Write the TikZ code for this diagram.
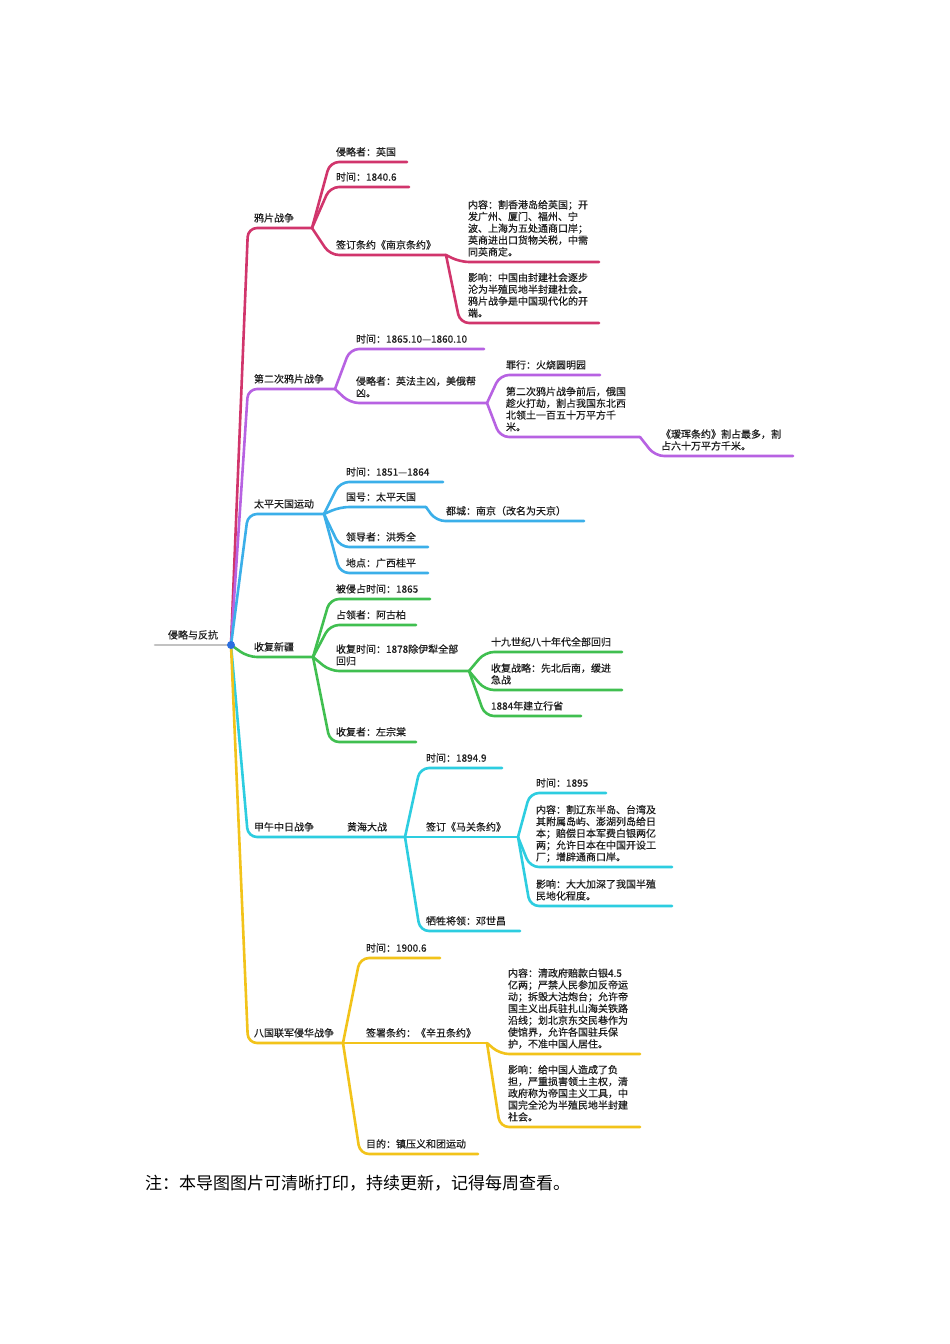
\documentclass[tikz,border=0pt]{standalone}
\usepackage{fontspec}
\setmainfont{Noto Sans CJK SC}
\newfontfamily\mapfont{Noto Sans CJK SC}[FakeBold=0.5]
\usepackage{tikz}

\definecolor{inkgray}{HTML}{1E1E1E}
\definecolor{rootgray}{HTML}{C2C2C2}
\definecolor{hubblue}{HTML}{2A6FE0}
\definecolor{opiumred}{HTML}{D1356C}
\definecolor{secondpurple}{HTML}{B762E2}
\definecolor{taipingblue}{HTML}{3BAFE9}
\definecolor{xinjianggreen}{HTML}{40BF50}
\definecolor{jiawucyan}{HTML}{2DCDE0}
\definecolor{baguoyellow}{HTML}{F2C31A}

\tikzset{
  mapnode/.style={anchor=south west, inner xsep=6pt, inner ysep=2.8pt, outer sep=0pt,
    align=left, text=inkgray, font=\mapfont\fontsize{10}{11.8}\selectfont,
    execute at end node=\strut},
  twig/.style={line width=2.6pt, line cap=round, line join=round, rounded corners=9pt},
}

\begin{document}
\begin{tikzpicture}[x=1pt,y=-1pt]
  \useasboundingbox[fill=white] (0,0) rectangle (950,1344);

  % root
  \node[mapnode, inner xsep=13pt, text width=50pt] (root) at (155,645) {侵略与反抗};

  % 鸦片战争
  \node[mapnode, text width=52pt] (opium) at (248,228) {鸦片战争};
  \node[mapnode, text width=65pt] (opium-who) at (330,162) {侵略者：英国};
  \node[mapnode, text width=67pt] (opium-time) at (330,187) {时间：1840.6};
  \node[mapnode, text width=104pt] (opium-treaty) at (330,255) {签订条约《南京条约》};
  \node[mapnode, text width=123pt, inner xsep=8pt] (opium-content) at (460,262) {内容：割香港岛给英国；开\\发广州、厦门、福州、宁\\波、上海为五处通商口岸；\\英商进出口货物关税，中需\\同英商定。};
  \node[mapnode, text width=123pt, inner xsep=8pt] (opium-effect) at (460,323) {影响：中国由封建社会逐步\\沦为半殖民地半封建社会。\\鸦片战争是中国现代化的开\\端。};

  % 第二次鸦片战争
  \node[mapnode, text width=75pt] (second) at (248,389) {第二次鸦片战争};
  \node[mapnode, text width=122pt] (second-time) at (350,349) {时间：1865.10—1860.10};
  \node[mapnode, text width=125pt] (second-who) at (350,403) {侵略者：英法主凶，美俄帮\\凶。};
  \node[mapnode, text width=88pt] (second-crime) at (500,375) {罪行：火烧圆明园};
  \node[mapnode, text width=128pt] (second-russia) at (500,437) {第二次鸦片战争前后，俄国\\趁火打劫，割占我国东北西\\北领土一百五十万平方千\\米。};
  \node[mapnode, text width=126pt] (second-aigun) at (655,456) {《瑷珲条约》割占最多，割\\占六十万平方千米。};

  % 太平天国运动
  \node[mapnode, text width=64pt] (taiping) at (248,514) {太平天国运动};
  \node[mapnode, text width=91pt] (taiping-time) at (340,482) {时间：1851—1864};
  \node[mapnode, text width=74pt] (taiping-name) at (340,507) {国号：太平天国};
  \node[mapnode, text width=128pt, inner xsep=10pt] (taiping-capital) at (436,521) {都城：南京（改名为天京）};
  \node[mapnode, text width=76pt] (taiping-leader) at (340,547) {领导者：洪秀全};
  \node[mapnode, text width=76pt] (taiping-place) at (340,573) {地点：广西桂平};

  % 收复新疆
  \node[mapnode, text width=53pt] (xinjiang) at (248,657) {收复新疆};
  \node[mapnode, text width=88pt] (xinjiang-lost) at (330,599) {被侵占时间：1865};
  \node[mapnode, text width=74pt] (xinjiang-enemy) at (330,625) {占领者：阿古柏};
  \node[mapnode, text width=127pt] (xinjiang-regain) at (330,671) {收复时间：1878除伊犁全部\\回归};
  \node[mapnode, text width=125pt] (xinjiang-all) at (485,652) {十九世纪八十年代全部回归};
  \node[mapnode, text width=125pt] (xinjiang-plan) at (485,690) {收复战略：先北后南，缓进\\急战};
  \node[mapnode, text width=84pt] (xinjiang-prov) at (485,716) {1884年建立行省};
  \node[mapnode, text width=74pt] (xinjiang-hero) at (330,742) {收复者：左宗棠};

  % 甲午中日战争
  \node[mapnode, text width=70pt] (jiawu) at (248,837) {甲午中日战争};
  \node[mapnode, text width=52pt] (jiawu-sea) at (341,837) {黄海大战};
  \node[mapnode, text width=70pt] (jiawu-time) at (420,768) {时间：1894.9};
  \node[mapnode, text width=86pt] (jiawu-treaty) at (420,837) {签订《马关条约》};
  \node[mapnode, text width=88pt] (jiawu-hero) at (420,931) {牺牲将领：邓世昌};
  \node[mapnode, text width=64pt] (jiawu-year) at (530,793) {时间：1895};
  \node[mapnode, text width=130pt] (jiawu-content) at (530,867) {内容：割辽东半岛、台湾及\\其附属岛屿、澎湖列岛给日\\本；赔偿日本军费白银两亿\\两；允许日本在中国开设工\\厂；增辟通商口岸。};
  \node[mapnode, text width=130pt] (jiawu-effect) at (530,906) {影响：大大加深了我国半殖\\民地化程度。};

  % 八国联军侵华战争
  \node[mapnode, text width=83pt] (baguo) at (248,1043) {八国联军侵华战争};
  \node[mapnode, text width=68pt] (baguo-time) at (360,958) {时间：1900.6};
  \node[mapnode, text width=115pt] (baguo-treaty) at (360,1043) {签署条约：《辛丑条约》};
  \node[mapnode, text width=106pt] (baguo-aim) at (360,1154) {目的：镇压义和团运动};
  \node[mapnode, text width=124pt, inner xsep=8pt] (baguo-content) at (500,1054) {内容：清政府赔款白银4.5\\亿两；严禁人民参加反帝运\\动；拆毁大沽炮台；允许帝\\国主义出兵驻扎山海关铁路\\沿线；划北京东交民巷作为\\使馆界，允许各国驻兵保\\护，不准中国人居住。};
  \node[mapnode, text width=124pt, inner xsep=8pt] (baguo-effect) at (500,1127) {影响：给中国人造成了负\\担，严重损害领土主权，清\\政府称为帝国主义工具，中\\国完全沦为半殖民地半封建\\社会。};

  % branches
  \draw[twig, rootgray] (root.south west) -- (root.south east);
  \draw[twig, opiumred] (root.south east) -- (opium.south west) -- (opium.south east);
  \foreach \n in {opium-who, opium-time, opium-treaty}
    \draw[twig, opiumred] (opium.south east) -- (\n.south west) -- (\n.south east);
  \foreach \n in {opium-content, opium-effect}
    \draw[twig, opiumred] (opium-treaty.south east) -- (\n.south west) -- (\n.south east);

  \draw[twig, secondpurple] (root.south east) -- (second.south west) -- (second.south east);
  \foreach \n in {second-time, second-who}
    \draw[twig, secondpurple] (second.south east) -- (\n.south west) -- (\n.south east);
  \foreach \n in {second-crime, second-russia}
    \draw[twig, secondpurple] (second-who.south east) -- (\n.south west) -- (\n.south east);
  \draw[twig, secondpurple] (second-russia.south east) -- (second-aigun.south west) -- (second-aigun.south east);

  \draw[twig, taipingblue] (root.south east) -- (taiping.south west) -- (taiping.south east);
  \foreach \n in {taiping-time, taiping-name, taiping-leader, taiping-place}
    \draw[twig, taipingblue] (taiping.south east) -- (\n.south west) -- (\n.south east);
  \draw[twig, taipingblue] (taiping-name.south east) -- (taiping-capital.south west) -- (taiping-capital.south east);

  \draw[twig, xinjianggreen] (root.south east) -- (xinjiang.south west) -- (xinjiang.south east);
  \foreach \n in {xinjiang-lost, xinjiang-enemy, xinjiang-regain, xinjiang-hero}
    \draw[twig, xinjianggreen] (xinjiang.south east) -- (\n.south west) -- (\n.south east);
  \foreach \n in {xinjiang-all, xinjiang-plan, xinjiang-prov}
    \draw[twig, xinjianggreen] (xinjiang-regain.south east) -- (\n.south west) -- (\n.south east);

  \draw[twig, jiawucyan] (root.south east) -- (jiawu.south west) -- (jiawu.south east) -- (jiawu-sea.south east);
  \foreach \n in {jiawu-time, jiawu-treaty, jiawu-hero}
    \draw[twig, jiawucyan] (jiawu-sea.south east) -- (\n.south west) -- (\n.south east);
  \foreach \n in {jiawu-year, jiawu-content, jiawu-effect}
    \draw[twig, jiawucyan] (jiawu-treaty.south east) -- (\n.south west) -- (\n.south east);

  \draw[twig, baguoyellow] (root.south east) -- (baguo.south west) -- (baguo.south east);
  \foreach \n in {baguo-time, baguo-treaty, baguo-aim}
    \draw[twig, baguoyellow] (baguo.south east) -- (\n.south west) -- (\n.south east);
  \foreach \n in {baguo-content, baguo-effect}
    \draw[twig, baguoyellow] (baguo-treaty.south east) -- (\n.south west) -- (\n.south east);

  \fill[hubblue] (root.south east) circle (4pt);

  % note
  \node[anchor=west, inner sep=0pt, font=\fontsize{17}{20}\selectfont] (note) at (145,1183) {注：本导图图片可清晰打印，持续更新，记得每周查看。};
\end{tikzpicture}
\end{document}
